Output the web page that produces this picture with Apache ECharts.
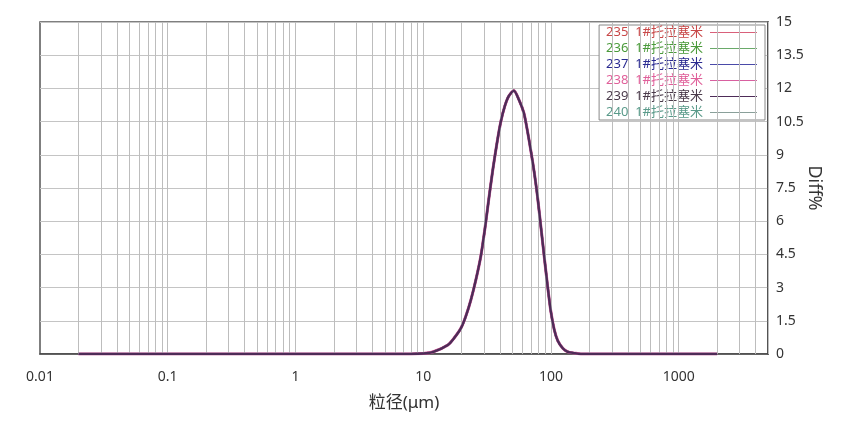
<!DOCTYPE html>
<html>
<head>
<meta charset="utf-8">
<script src="https://cdn.jsdelivr.net/npm/echarts@6/dist/echarts.min.js"></script>
<style>
  html, body { margin: 0; padding: 0; background: #fff; }
  #chart { width: 846px; height: 422px; }
</style>
</head>
<body>
<div id="chart"></div>
<script>
// particle size (µm) and differential volume (%)
const sizes = [0.02, 8, 10, 12, 15.6, 17.4, 19.7, 21.5, 23.6, 25.8, 28.2, 30.3, 32.6, 35, 37.7, 40.5, 43.5, 46.7, 51.2,
  56, 61.3, 65.8, 69.5, 74, 78.1, 81, 87, 93.5, 99.6, 106.1, 113, 123.7, 135.3, 153.6, 171, 2000]
const diffValues = [0, 0, 0.02, 0.1, 0.41, 0.71, 1.16, 1.69, 2.44, 3.34, 4.4, 5.6, 7.0, 8.3, 9.5, 10.5, 11.2, 11.65, 11.9,
  11.5, 10.9, 10.0, 9.2, 8.2, 7.2, 6.4, 4.8, 3.2, 1.95, 1.1, 0.6, 0.26, 0.1, 0.04, 0, 0]

const sampleNames = ['235  1#托拉塞米', '236  1#托拉塞米', '237  1#托拉塞米', '238  1#托拉塞米', '239  1#托拉塞米', '240  1#托拉塞米']
const lineColors = ['#d9607a', '#6aaa6a', '#4a4aa8', '#d860a0', '#4e2c58', '#8aa09a']
const textColors = ['#c84848', '#4a9a3a', '#2a2a90', '#e0609a', '#4a3a4a', '#5a9a8a']

const xTickLabels = ['0.01', '0.1', '1', '10', '100', '1000']
const yTickLabels = ['0', '1.5', '3', '4.5', '6', '7.5', '9', '10.5', '12', '13.5', '15']

const X_MIN = 0.01
const X_MAX = 5000

// log-paper grid lines: 1..9 × each decade
const gridX = []
for (let d = -2; d <= 3; d++) {
  for (let k = 1; k <= 9; k++) {
    const v = +(k * Math.pow(10, d)).toPrecision(3)
    if (v > X_MIN && v <= X_MAX) gridX.push(v)
  }
}

const font = "'Noto Sans', 'Noto Sans CJK SC', sans-serif"
const chart = echarts.init(document.getElementById('chart'))

const curveSeries = sampleNames.map((name, i) => {
  const top = name.startsWith('239')
  const halo = name.startsWith('238')
  return {
    name,
    type: 'line',
    data: sizes.map((s, j) => [s, diffValues[j]]),
    showSymbol: false,
    smooth: 0.25,
    z: top ? 5 : halo ? 4 : 3,
    lineStyle: { color: lineColors[i], width: halo ? 3 : top ? 2.4 : 2 },
    itemStyle: { color: lineColors[i] },
  }
})

chart.setOption({
  backgroundColor: '#fff',
  animation: false,
  textStyle: { fontFamily: font },
  grid: {
    left: 40, right: 78, top: 22, bottom: 68,
    show: true, borderColor: '#555', borderWidth: 1.5,
  },
  legend: {
    orient: 'vertical',
    right: 81,
    top: 25,
    align: 'right',
    padding: [1, 8, 1, 7],
    itemWidth: 47,
    itemHeight: 13,
    itemGap: 3,
    backgroundColor: '#fff',
    borderColor: '#888',
    borderWidth: 1,
    icon: 'path://M0,0 L100,0 L100,2 L0,2 Z',
    data: sampleNames.map((n, i) => ({ name: n, textStyle: { color: textColors[i] } })),
    textStyle: { fontSize: 13, fontFamily: font, padding: [0, 2, 0, 0] },
  },
  xAxis: {
    type: 'log',
    logBase: 10,
    min: X_MIN,
    max: X_MAX,
    splitNumber: 6,
    name: '粒径(μm)',
    nameLocation: 'middle',
    nameGap: 41,
    nameTextStyle: { fontSize: 17, color: '#333' },
    axisLine: { lineStyle: { color: '#444', width: 1.5 } },
    axisTick: { show: false },
    splitLine: { show: false },
    axisLabel: {
      fontSize: 14,
      color: '#333',
      margin: 16,
      showMaxLabel: false,
      formatter: (v) => {
        const e = Math.round(Math.log10(v))
        if (Math.abs(Math.log10(v) - e) > 1e-6) return ''
        return xTickLabels[e + 2] || ''
      },
    },
  },
  yAxis: {
    type: 'value',
    position: 'right',
    min: 0,
    max: 15,
    interval: 1.5,
    name: 'Diff%',
    nameLocation: 'middle',
    nameGap: 37,
    nameMoveOverlap: false,
    nameRotate: -90,
    nameTextStyle: { fontSize: 18, color: '#333' },
    axisLine: { show: true, lineStyle: { color: '#444', width: 1.5 } },
    axisTick: { show: false },
    splitLine: { lineStyle: { color: '#c4c4c4', width: 1 } },
    axisLabel: {
      fontSize: 14,
      color: '#333',
      margin: 8,
      formatter: (v) => yTickLabels[Math.round(v / 1.5)],
    },
  },
  series: [
    {
      name: 'grid',
      type: 'line',
      data: [],
      z: 1,
      silent: true,
      markLine: {
        silent: true,
        symbol: 'none',
        label: { show: false },
        lineStyle: { color: '#bdbdbd', type: 'solid', width: 1 },
        data: gridX.map((v) => ({ xAxis: v })),
      },
    },
    ...curveSeries,
  ],
})
</script>
</body>
</html>
